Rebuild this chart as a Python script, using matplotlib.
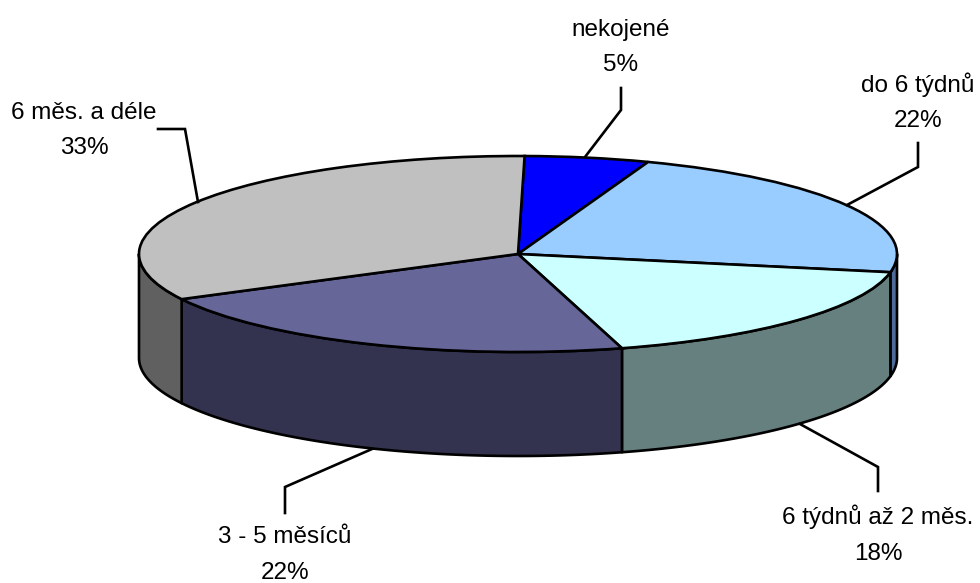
import numpy as np
import matplotlib
matplotlib.use("Agg")
import matplotlib.pyplot as plt

labels = ["nekojené", "do 6 týdnů", "6 týdnů až 2 měs.", "3 - 5 měsíců", "6 měs. a déle"]
values = [5.3, 22.4, 17.6, 21.8, 32.9]
top_colors = ["#0000FF", "#99CCFF", "#CCFFFF", "#666699", "#C0C0C0"]
side_colors = ["#00007F", "#4D6A99", "#668080", "#333350", "#606060"]

# where the pie sits in the picture (pixels)
W, H = 980, 583
cx, cy = 518, 254
rx, ry = 379, 98
depth = 104
start = 89
lw = 1.9

# text centre x, y of name, y of percent, leader line points
label_pos = [
    (621, 30, 65, [(621, 88), (621, 110), (585, 157)]),
    (918, 85, 121, [(918, 143), (918, 167), (847, 205)]),
    (878, 517, 554, [(878, 491), (878, 467), (800, 424)]),
    (285, 537, 573, [(285, 513), (285, 487), (372, 449)]),
    (84, 113, 148, [(158, 129), (185, 129), (198, 202)]),
]


def px(x, y):
    return (x - cx) / rx, (cy - y) / ry


fig = plt.figure(figsize=(W / 100, H / 100), dpi=100)
ax = fig.add_axes([0, 0, 1, 1])
plt.rcParams["font.family"] = ["Liberation Sans", "DejaVu Sans"]

d = depth / ry
edges = start - np.cumsum([0] + values) * 3.6

# walls first, only the front half of the rim is visible
for i in range(len(values)):
    a1, a2 = edges[i + 1], edges[i]
    lo, hi = max(a1, -180), min(a2, 0)
    if lo >= hi:
        continue
    t = np.radians(np.linspace(hi, lo, 80))
    xs = np.cos(t)
    ys = np.sin(t)
    poly_x = np.concatenate([xs, xs[::-1]])
    poly_y = np.concatenate([ys, ys[::-1] - d])
    ax.fill(poly_x, poly_y, facecolor=side_colors[i], edgecolor="black", linewidth=lw, joinstyle="round", zorder=1)

ax.pie(values, colors=top_colors, startangle=start, counterclock=False, radius=1, center=(0, 0),
       normalize=True, wedgeprops={"edgecolor": "black", "linewidth": lw, "zorder": 2})

ax.set_aspect("auto")
ax.set_xlim(px(0, 0)[0], px(W, 0)[0])
ax.set_ylim(px(0, H)[1], px(0, 0)[1])
ax.axis("off")

for name, v, (tx, y1, y2, pts) in zip(labels, values, label_pos):
    ax.text(*px(tx, y1), name, ha="center", va="center", fontsize=17.5, color="black", zorder=4)
    ax.text(*px(tx, y2), f"{v:.0f}%", ha="center", va="center", fontsize=17.5, color="black", zorder=4)
    lx, ly = zip(*[px(*p) for p in pts])
    ax.plot(lx, ly, color="black", linewidth=lw, solid_joinstyle="miter", zorder=3)

fig.savefig("out.png", dpi=100)
